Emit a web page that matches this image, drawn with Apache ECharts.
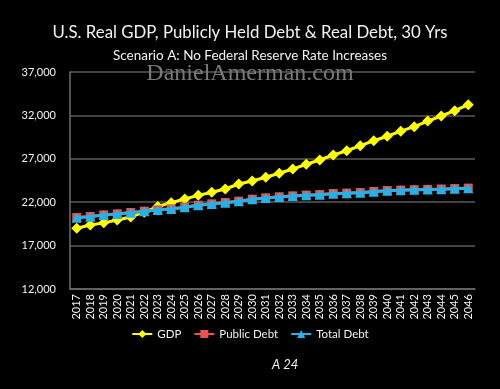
<!DOCTYPE html>
<html>
<head>
<meta charset="utf-8">
<script src="https://cdn.jsdelivr.net/npm/echarts@6/dist/echarts.min.js"></script>
<style>
html,body{margin:0;padding:0;background:#000;}
#c{width:500px;height:389px;}
</style>
</head>
<body>
<div id="c"></div>
<script>
const years = ['2017','2018','2019','2020','2021','2022','2023','2024','2025','2026','2027','2028','2029','2030','2031','2032','2033','2034','2035','2036','2037','2038','2039','2040','2041','2042','2043','2044','2045','2046'];
const gdp = [18990,19370,19620,19950,20300,20850,21500,21950,22370,22790,23140,23520,24100,24440,24870,25330,25820,26370,26860,27440,27930,28510,29080,29600,30180,30700,31350,31930,32540,33230];
const publicDebt = [20230,20350,20540,20660,20810,20970,21120,21240,21430,21660,21810,21960,22120,22350,22500,22620,22730,22810,22880,23000,23050,23110,23230,23340,23400,23440,23480,23520,23570,23620];
const totalDebt = [20210,20330,20520,20640,20790,20950,21100,21220,21410,21640,21790,21940,22100,22330,22480,22600,22710,22790,22860,22980,23030,23090,23210,23320,23380,23420,23460,23500,23550,23600];
const yMin = 12000, yMax = 37000, yStep = 5000;

const chart = echarts.init(document.getElementById('c'), null, {renderer:'canvas'});
const font = 'Lato, "Open Sans", sans-serif';
chart.setOption({
  backgroundColor:'#000',
  animation:false,
  title:[
    {text:'U.S. Real GDP, Publicly Held Debt & Real Debt, 30 Yrs', left:'center', top:19,
     textStyle:{color:'#f2f2f2', fontSize:16.8, fontWeight:'normal', fontFamily:font}},
    {text:'Scenario A: No Federal Reserve Rate Increases', left:'center', top:44,
     textStyle:{color:'#f2f2f2', fontSize:13.5, fontWeight:'normal', fontFamily:font}},
    {text:'DanielAmerman.com', left:'center', top:57,
     textStyle:{color:'#7a7a7a', fontSize:24, fontWeight:'normal', fontFamily:'"Liberation Serif", "DejaVu Serif", serif'}},
    {text:'A 24', left:267, top:353,
     textStyle:{color:'#f2f2f2', fontSize:13, fontStyle:'italic', fontWeight:'normal', fontFamily:font}}
  ],
  legend:{
    bottom:44, left:'center', itemWidth:20, itemHeight:10, itemGap:12,
    textStyle:{color:'#f2f2f2', fontSize:11.5, fontFamily:font},
    data:['GDP','Public Debt','Total Debt']
  },
  grid:{left:70, right:25, top:72, bottom:100, containLabel:false},
  xAxis:{
    type:'category', data:years, boundaryGap:true,
    axisLine:{lineStyle:{color:'#6e6e6e', width:1.5}},
    axisTick:{show:false},
    axisLabel:{rotate:90, color:'#f2f2f2', fontSize:11, fontFamily:font, interval:0, margin:5}
  },
  yAxis:{
    type:'value', min:yMin, max:yMax, interval:yStep,
    axisLine:{show:true, lineStyle:{color:'#6e6e6e', width:1.5}},
    axisTick:{show:false},
    splitLine:{lineStyle:{color:'#5a5a5a', width:1.5}},
    axisLabel:{color:'#f2f2f2', fontSize:11, fontFamily:font, margin:14,
      formatter:v=>v.toLocaleString('en-US')}
  },
  series:[
    {name:'GDP', type:'line', data:gdp, symbol:'diamond', symbolSize:11,
     lineStyle:{color:'#ffff00', width:3}, itemStyle:{color:'#ffff00'}, z:2},
    {name:'Public Debt', type:'line', data:publicDebt, symbol:'rect', symbolSize:9,
     lineStyle:{color:'#e8534d', width:3}, itemStyle:{color:'#e8534d'}, z:3},
    {name:'Total Debt', type:'line', data:totalDebt, symbol:'triangle', symbolSize:10,
     lineStyle:{color:'#22b3ea', width:3}, itemStyle:{color:'#22b3ea'}, z:4}
  ]
});
</script>
</body>
</html>
